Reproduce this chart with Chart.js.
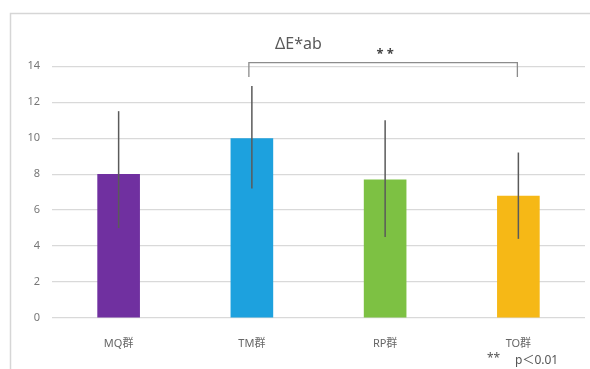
<!DOCTYPE html>
<html>
<head>
<meta charset="utf-8">
<script src="https://cdn.jsdelivr.net/npm/chart.js@4/dist/chart.umd.min.js"></script>
<style>
  html, body { margin: 0; padding: 0; background: #fff; }
  #wrap { width: 590px; height: 369px; position: relative; }
</style>
</head>
<body>
<div id="wrap"><canvas id="deltaChart"></canvas></div>
<script>
const groups = ["MQ群", "TM群", "RP群", "TO群"];
const means = [8.0, 10.0, 7.7, 6.8];
const errHigh = [11.5, 12.9, 11.0, 9.2];
const errLow = [5.0, 7.2, 4.5, 4.4];
const barColors = ["#7030a0", "#1da1de", "#7dc143", "#f6b816"];
const yTicks = [0, 2, 4, 6, 8, 10, 12, 14];

const FONT = "'Noto Sans', 'Noto Sans CJK JP', sans-serif";

// frame, error bars, significance bracket, footnote
const extras = {
  id: "extras",
  beforeDraw(chart) {
    const c = chart.ctx;
    c.save();
    c.strokeStyle = "#d6d6d6";
    c.lineWidth = 1.5;
    c.beginPath();
    c.moveTo(10.5, 369);
    c.lineTo(10.5, 13.5);
    c.lineTo(590, 13.5);
    c.stroke();
    c.restore();
  },
  afterDatasetsDraw(chart) {
    const c = chart.ctx;
    const x = chart.scales.x, y = chart.scales.y;
    c.save();
    c.strokeStyle = "#5a5a5a";
    c.lineWidth = 1.5;
    groups.forEach((g, i) => {
      const px = x.getPixelForValue(i);
      c.beginPath();
      c.moveTo(px, y.getPixelForValue(errLow[i]));
      c.lineTo(px, y.getPixelForValue(errHigh[i]));
      c.stroke();
    });
    // bracket TM - TO
    const x1 = x.getPixelForValue(1) - 3, x2 = x.getPixelForValue(3) - 1;
    const top = y.getPixelForValue(14.2), low = y.getPixelForValue(13.4);
    c.strokeStyle = "#8c8c8c";
    c.lineWidth = 1.3;
    c.beginPath();
    c.moveTo(x1, low);
    c.lineTo(x1, top);
    c.lineTo(x2, top);
    c.lineTo(x2, low);
    c.stroke();
    c.fillStyle = "#444";
    c.font = "bold 13px " + FONT;
    c.textAlign = "center";
    c.textBaseline = "middle";
    c.fillText("* *", (x1 + x2) / 2 + 2, top - 8);
    c.font = "12px " + FONT;
    c.textAlign = "left";
    c.fillStyle = "#555";
    c.fillText("**", 487, 359);
    c.fillText("p\uFF1C0.01", 515, 361);
    c.restore();
  }
};

const ctx = document.getElementById("deltaChart");
ctx.width = 590;
ctx.height = 369;
const deltaChart = new Chart(ctx, {
  type: "bar",
  data: {
    labels: groups,
    datasets: [{
      data: means,
      backgroundColor: barColors,
      categoryPercentage: 1.0,
      barPercentage: 0.32,
    }],
  },
  plugins: [extras],
  options: {
    responsive: false,
    animation: false,
    layout: { padding: { top: 35, left: 12, right: 5, bottom: 0 } },
    plugins: {
      legend: { display: false },
      tooltip: { enabled: false },
      title: {
        display: true,
        text: "ΔE*ab",
        color: "#595959",
        font: { family: FONT, size: 16, weight: "normal" },
        padding: { top: 0, bottom: 12 },
      },
    },
    scales: {
      x: {
        afterFit(axis) { axis.height = 51; },
        grid: { display: false },
        border: { display: false },
        ticks: { color: "#666", font: { family: FONT, size: 11 }, padding: 11 },
      },
      y: {
        min: 0,
        max: 14,
        afterFit(axis) { axis.width = 40; },
        afterBuildTicks(axis) { axis.ticks = yTicks.map(v => ({ value: v })); },
        grid: { color: "#d9d9d9", lineWidth: 1.2, drawTicks: false },
        border: { display: false },
        ticks: { color: "#777", font: { family: FONT, size: 11 }, padding: 12 },
      },
    },
  },
});
</script>
</body>
</html>
